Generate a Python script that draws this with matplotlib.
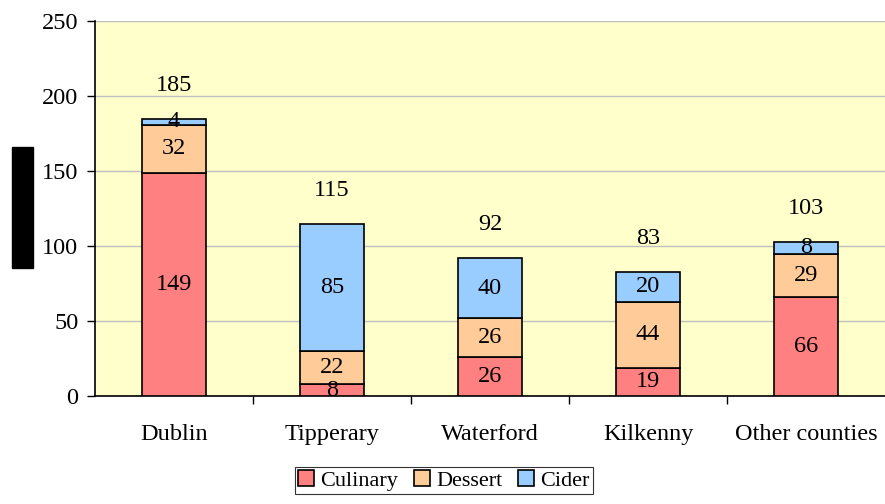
import numpy as np
import matplotlib.pyplot as plt
from matplotlib.patches import Rectangle

plt.rcParams['font.family'] = ['Liberation Serif', 'DejaVu Serif']

# data
counties = ['Dublin', 'Tipperary', 'Waterford', 'Kilkenny', 'Other counties']
culinary = [149, 8, 26, 19, 66]
dessert = [32, 22, 26, 44, 29]
cider = [4, 85, 40, 20, 8]
totals = [185, 115, 92, 83, 103]

series = [('Culinary', culinary, '#FF8080'),
          ('Dessert', dessert, '#FFCC99'),
          ('Cider', cider, '#99CCFF')]

fs = 17.5

fig = plt.figure(figsize=(8.85, 5.04), dpi=100)
ax = fig.add_axes([95/885, 1-396/504, 1-95/885, (396-21)/504])
ax.set_facecolor('#FFFFCC')

x = np.arange(len(counties))
bottom = np.zeros(len(counties))
w = 0.41
for name, vals, col in series:
    vals = np.array(vals)
    ax.bar(x, vals, w, bottom=bottom, color=col, edgecolor='black',
           linewidth=1.2, label=name, zorder=3)
    for xi, b, v in zip(x, bottom, vals):
        ax.text(xi, b + v/2, str(v), ha='center', va='center', fontsize=fs, zorder=4)
    bottom = bottom + vals

# totals above bars
for xi, t in zip(x, totals):
    ax.text(xi, t + 22, str(t), ha='center', va='center', fontsize=fs)

ax.set_xlim(-0.5, len(counties) - 0.5)
ax.set_ylim(0, 250)
ax.set_yticks(np.arange(0, 251, 50))
ax.yaxis.grid(True, color='#C0C0C0', linewidth=1, zorder=0)
ax.set_axisbelow(True)

ax.set_xticks(x)
ax.set_xticklabels(counties, fontsize=fs)
ax.set_xticks(np.arange(0.5, len(counties) - 0.5), minor=True)
ax.tick_params(axis='x', which='major', length=0, pad=20)
ax.tick_params(axis='x', which='minor', length=6, direction='out', width=1)
ax.tick_params(axis='y', length=6, width=1, pad=6, labelsize=fs)

for s in ['top', 'right']:
    ax.spines[s].set_visible(False)
for s in ['left', 'bottom']:
    ax.spines[s].set_linewidth(1.2)

# black block on the left
fig.patches.append(Rectangle((12/885, 1-268/504), 21/885, 121/504,
                             transform=fig.transFigure, color='black'))

leg = fig.legend(loc='upper center', bbox_to_anchor=(444/885, 1-467/504), ncol=3,
                 fontsize=16, frameon=True, fancybox=False, edgecolor='black',
                 handlelength=0.7, handleheight=0.7, handletextpad=0.3,
                 columnspacing=0.7, borderpad=0.15, borderaxespad=0)
leg.get_frame().set_linewidth(0.8)

fig.savefig('out.png', dpi=100)
